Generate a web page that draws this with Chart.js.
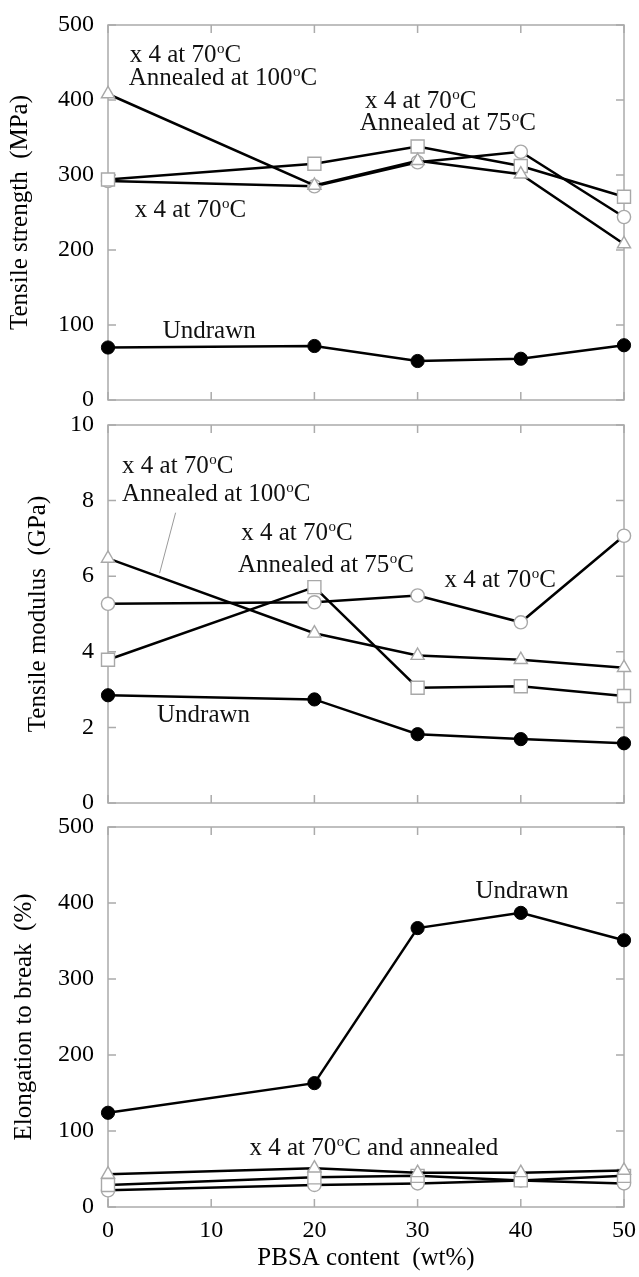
<!DOCTYPE html>
<html>
<head>
<meta charset="utf-8">
<script src="https://cdn.jsdelivr.net/npm/chart.js@4.4.1/dist/chart.umd.min.js"></script>
<style>
html,body{margin:0;padding:0;background:#fff;}
#wrap{position:relative;width:639px;height:1277px;overflow:hidden;}
#wrap canvas{position:absolute;left:0;top:0;}
</style>
</head>
<body>
<div id="wrap">
<canvas id="c1" width="639" height="1277"></canvas>
<canvas id="c2" width="639" height="1277"></canvas>
<canvas id="c3" width="639" height="1277"></canvas>
</div>
<script>
// ---------- data ----------
const pbsa = [0, 20, 30, 40, 50];               // PBSA content (wt%)
const xTicks = [0, 10, 20, 30, 40, 50];

// Tensile strength (MPa)
const strengthTicks   = [0, 100, 200, 300, 400, 500];
const strengthUndrawn = [70, 72, 52, 55, 73];
const strengthAnn100  = [408, 286, 319, 301, 208];
const strengthAnn75   = [294, 315, 338, 312, 271];
const strengthDrawn   = [292, 285, 317, 331, 244];

// Tensile modulus (GPa)
const modulusTicks   = [0, 2, 4, 6, 8, 10];
const modulusUndrawn = [2.85, 2.74, 1.82, 1.69, 1.58];
const modulusAnn100  = [6.47, 4.49, 3.90, 3.79, 3.58];
const modulusAnn75   = [3.79, 5.71, 3.05, 3.09, 2.83];
const modulusDrawn   = [5.27, 5.31, 5.49, 4.78, 7.07];

// Elongation to break (%)
const elongTicks   = [0, 100, 200, 300, 400, 500];
const elongUndrawn = [124, 163, 367, 387, 351];
const elongAnn100  = [43, 51, 45, 45, 48];
const elongAnn75   = [29, 39, 41, 35, 41];
const elongDrawn   = [22, 29, 31, 35, 31];

// ---------- labels (positions in data units) ----------
const strengthNotes = [
  {x: 2.1,  y: 451, text: 'x 4 at 70°C'},
  {x: 2.0,  y: 420, text: 'Annealed at 100°C'},
  {x: 24.9, y: 389, text: 'x 4 at 70°C'},
  {x: 24.4, y: 360, text: 'Annealed at 75°C'},
  {x: 2.6,  y: 244, text: 'x 4 at 70°C'},
  {x: 5.3,  y: 83,  text: 'Undrawn'}
];
const modulusNotes = [
  {x: 1.36, y: 8.73, text: 'x 4 at 70°C'},
  {x: 1.36, y: 7.99, text: 'Annealed at 100°C'},
  {x: 12.9, y: 6.96, text: 'x 4 at 70°C'},
  {x: 12.6, y: 6.11, text: 'Annealed at 75°C'},
  {x: 32.6, y: 5.71, text: 'x 4 at 70°C'},
  {x: 4.75, y: 2.14, text: 'Undrawn'}
];
const modulusLeader = [{x: 6.55, y: 7.68}, {x: 5.0, y: 6.08}];
const elongNotes = [
  {x: 35.6, y: 407, text: 'Undrawn'},
  {x: 13.7, y: 68,  text: 'x 4 at 70°C and annealed'}
];

// ---------- drawing helpers ----------
const FAMILY = "'Liberation Serif', 'Times New Roman', Times, serif";
const LABEL_FONT = '25px ' + FAMILY;
const SUP_FONT = '15px ' + FAMILY;

function drawRich(ctx, text, x, y) {
  const parts = text.split('°');
  let cx = x;
  parts.forEach((p, i) => {
    if (i > 0) {
      ctx.font = SUP_FONT;
      ctx.fillText('o', cx + 0.5, y - 9);
      cx += ctx.measureText('o').width + 0.5;
    }
    ctx.font = LABEL_FONT;
    ctx.fillText(p, cx, y);
    cx += ctx.measureText(p).width;
  });
}

const framePlugin = {
  id: 'frame',
  beforeDatasetsDraw(chart, args, opts) {
    const {ctx, chartArea: a, scales: {x, y}} = chart;
    ctx.save();
    ctx.strokeStyle = '#ababab';
    ctx.lineWidth = 1.5;
    ctx.strokeRect(a.left, a.top, a.right - a.left, a.bottom - a.top);
    ctx.beginPath();
    xTicks.forEach(v => {
      const px = x.getPixelForValue(v);
      ctx.moveTo(px, a.bottom); ctx.lineTo(px, a.bottom - 8);
      ctx.moveTo(px, a.top);    ctx.lineTo(px, a.top + 8);
    });
    opts.yTicks.forEach(v => {
      const py = y.getPixelForValue(v);
      ctx.moveTo(a.left, py);  ctx.lineTo(a.left + 8, py);
      ctx.moveTo(a.right, py); ctx.lineTo(a.right - 8, py);
    });
    ctx.stroke();
    if (opts.leader) {
      ctx.strokeStyle = '#9a9a9a';
      ctx.lineWidth = 1;
      ctx.beginPath();
      ctx.moveTo(x.getPixelForValue(opts.leader[0].x), y.getPixelForValue(opts.leader[0].y));
      ctx.lineTo(x.getPixelForValue(opts.leader[1].x), y.getPixelForValue(opts.leader[1].y));
      ctx.stroke();
    }
    ctx.restore();
  },
  afterDraw(chart, args, opts) {
    const {ctx, scales: {x, y}} = chart;
    ctx.save();
    ctx.fillStyle = '#111';
    ctx.textAlign = 'left';
    ctx.textBaseline = 'alphabetic';
    (opts.notes || []).forEach(n => {
      drawRich(ctx, n.text, x.getPixelForValue(n.x), y.getPixelForValue(n.y));
    });
    ctx.restore();
  }
};

function series(values, style, filled) {
  const radius = style === 'rect' ? 9.2 : (style === 'triangle' ? 7.6 : 6.6);
  return {
    data: pbsa.map((v, i) => ({x: v, y: values[i]})),
    borderColor: '#000',
    borderWidth: 2.5,
    tension: 0,
    fill: false,
    clip: false,
    pointStyle: style,
    pointRadius: radius,
    pointHoverRadius: radius,
    pointBackgroundColor: filled ? '#000' : '#fff',
    pointBorderColor: filled ? '#000' : '#a8a8a8',
    pointBorderWidth: filled ? 1 : 1.4
  };
}

function makePanel(id, cfg) {
  new Chart(document.getElementById(id), {
    type: 'line',
    data: {datasets: [
      series(cfg.undrawn, 'circle', true),
      series(cfg.ann100, 'triangle', false),
      series(cfg.ann75, 'rect', false),
      series(cfg.drawn, 'circle', false)
    ]},
    options: {
      responsive: false,
      animation: false,
      devicePixelRatio: 1,
      events: [],
      layout: {padding: {left: 0, right: 15, top: cfg.top, bottom: cfg.bottomPad}},
      plugins: {
        legend: {display: false},
        tooltip: {enabled: false},
        frame: {yTicks: cfg.yTicks, notes: cfg.notes, leader: cfg.leader}
      },
      scales: {
        x: {
          type: 'linear', min: 0, max: 50,
          display: cfg.showX,
          grid: {display: false, drawTicks: false},
          border: {display: false},
          afterBuildTicks: s => { s.ticks = xTicks.map(v => ({value: v})); },
          ticks: {font: {family: FAMILY, size: 24}, color: '#000', padding: 9, maxRotation: 0, autoSkip: false},
          title: {display: cfg.showX, text: 'PBSA content  (wt%)', color: '#000',
                  font: {family: FAMILY, size: 25, lineHeight: 1}, padding: {top: 0, bottom: 6}},
          afterFit: s => {
            s.height = cfg.showX ? 70 : 0;
            s.paddingLeft = 0; s.paddingRight = 0;
          }
        },
        y: {
          type: 'linear', min: cfg.yTicks[0], max: cfg.yTicks[cfg.yTicks.length - 1],
          grid: {display: false, drawTicks: false},
          border: {display: false},
          afterBuildTicks: s => { s.ticks = cfg.yTicks.map(v => ({value: v})); },
          ticks: {font: {family: FAMILY, size: 24}, color: '#000', padding: 14, autoSkip: false},
          title: {display: true, text: cfg.yTitle, color: '#000',
                  font: {family: FAMILY, size: 25, lineHeight: 1}, padding: {top: cfg.titlePad, bottom: 0}},
          afterFit: s => {
            s.width = 108;
            s.paddingTop = 0; s.paddingBottom = 0;
          }
        }
      }
    },
    plugins: [framePlugin]
  });
}

makePanel('c1', {
  undrawn: strengthUndrawn, ann100: strengthAnn100, ann75: strengthAnn75, drawn: strengthDrawn,
  yTicks: strengthTicks, yTitle: 'Tensile strength  (MPa)', notes: strengthNotes,
  top: 25, bottomPad: 877, showX: false, titlePad: 8
});
makePanel('c2', {
  undrawn: modulusUndrawn, ann100: modulusAnn100, ann75: modulusAnn75, drawn: modulusDrawn,
  yTicks: modulusTicks, yTitle: 'Tensile modulus  (GPa)', notes: modulusNotes, leader: modulusLeader,
  top: 425, bottomPad: 474, showX: false, titlePad: 26
});
makePanel('c3', {
  undrawn: elongUndrawn, ann100: elongAnn100, ann75: elongAnn75, drawn: elongDrawn,
  yTicks: elongTicks, yTitle: 'Elongation to break  (%)', notes: elongNotes,
  top: 827, bottomPad: 0, showX: true, titlePad: 12
});
</script>
</body>
</html>
